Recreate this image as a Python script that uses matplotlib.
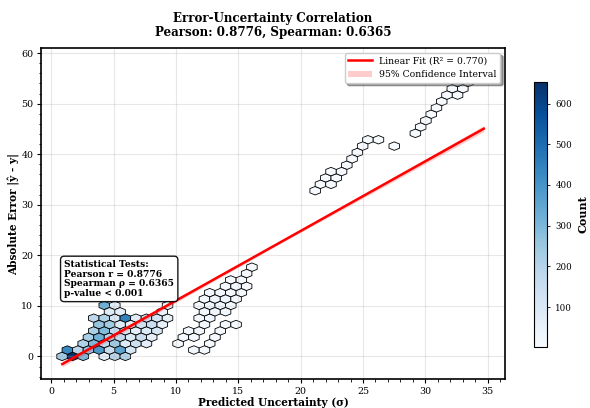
import numpy as np
import matplotlib
matplotlib.use("Agg")
import matplotlib.pyplot as plt
from matplotlib.lines import Line2D
from matplotlib.patches import Patch

plt.rcParams['font.family'] = ['DejaVu Serif']

# ---------------- data ----------------
# hexbin cells: centre x (predicted uncertainty), centre y (absolute error), count
hex_x = [
    # lower-left dense cluster
    0.86, 1.71, 2.55, 4.24, 5.09, 5.94,
    1.28, 2.13, 2.97, 3.82, 4.67, 5.51, 6.36,
    2.55, 3.40, 4.24, 5.09, 5.94, 6.78, 7.63,
    2.97, 3.82, 4.67, 5.51, 6.36, 7.20, 8.05,
    3.40, 4.24, 5.09, 5.94, 6.78, 7.63, 8.47,
    3.82, 4.67, 5.51, 6.36, 7.20, 8.05, 8.89,
    3.40, 4.24, 5.09, 5.94, 6.78, 7.63, 8.47, 9.32,
    4.67, 5.51, 8.89,
    4.24, 5.09, 9.32,
    # middle cluster
    11.44, 12.28,
    10.17, 12.70,
    10.59, 11.44, 13.13,
    11.01, 11.86, 13.55,
    12.28, 13.97, 14.82,
    11.86, 12.70,
    12.28, 13.13, 13.97,
    11.86, 12.70, 13.55, 14.40,
    12.28, 13.13, 13.97, 14.82,
    12.70, 13.55, 14.40, 15.24,
    13.97, 14.82, 15.67,
    14.40, 15.24,
    15.67,
    16.09,
    # upper cluster
    21.16,
    21.59, 22.43,
    22.01, 22.86,
    22.43, 23.28,
    23.70,
    24.12,
    24.55,
    24.97, 27.51,
    25.39, 26.24,
    # top cluster
    29.20, 29.62, 30.05, 30.47, 30.89, 31.32,
    31.74, 32.59,
    32.16, 33.01,
    32.59, 33.43,
    33.85, 34.28, 34.70,
]
hex_y = [
    0.00, 0.00, 0.00, 0.00, 0.00, 0.00,
    1.26, 1.26, 1.26, 1.26, 1.26, 1.26, 1.26,
    2.52, 2.52, 2.52, 2.52, 2.52, 2.52, 2.52,
    3.78, 3.78, 3.78, 3.78, 3.78, 3.78, 3.78,
    5.04, 5.04, 5.04, 5.04, 5.04, 5.04, 5.04,
    6.31, 6.31, 6.31, 6.31, 6.31, 6.31, 6.31,
    7.57, 7.57, 7.57, 7.57, 7.57, 7.57, 7.57, 7.57,
    8.83, 8.83, 8.83,
    10.09, 10.09, 10.09,
    1.26, 1.26,
    2.52, 2.52,
    3.78, 3.78, 3.78,
    5.04, 5.04, 5.04,
    6.31, 6.31, 6.31,
    7.57, 7.57,
    8.83, 8.83, 8.83,
    10.09, 10.09, 10.09, 10.09,
    11.35, 11.35, 11.35, 11.35,
    12.61, 12.61, 12.61, 12.61,
    13.87, 13.87, 13.87,
    15.13, 15.13,
    16.39,
    17.65,
    32.79,
    34.05, 34.05,
    35.31, 35.31,
    36.57, 36.57,
    37.83,
    39.09,
    40.35,
    41.61, 41.61,
    42.87, 42.87,
    44.14, 45.40, 46.66, 47.92, 49.18, 50.44,
    51.70, 51.70,
    52.96, 52.96,
    54.22, 54.22,
    55.48, 56.74, 57.90,
]
hex_count = [
    240, 653, 300, 70, 190, 210,
    430, 190, 260, 390, 160, 360, 110,
    210, 300, 180, 250, 90, 140, 70,
    230, 320, 210, 170, 90, 150, 70,
    220, 290, 170, 120, 70, 90, 110,
    260, 240, 90, 70, 130, 150, 60,
    180, 210, 100, 450, 80, 150, 120, 60,
    90, 70, 50,
    330, 70, 40,
    15, 12,
    10, 14,
    18, 12, 12,
    15, 20, 10,
    22, 12, 8,
    18, 25,
    20, 28, 22,
    15, 25, 30, 20,
    18, 28, 25, 15,
    15, 22, 20, 12,
    15, 18, 10,
    10, 12,
    10,
    6,
    5,
    6, 5,
    5, 6,
    6, 5,
    6,
    5,
    6,
    5, 2,
    5, 4,
    5, 5, 5, 6, 5, 6,
    5, 6,
    6, 5,
    4, 5,
    4, 3, 2,
]

# data range of the underlying points (sets the hexagon grid)
data_extent = (0.86, 34.70, 0.0, 58.0)

# linear fit
fit_x = [0.88, 34.69]
fit_y = [-1.52, 45.06]
ci_x = [0.88, 17.78, 34.69]
ci_mid = [-1.52, 21.77, 45.06]
ci_half = [0.55, 0.25, 0.6]

title_text = "Error-Uncertainty Correlation\nPearson: 0.8776, Spearman: 0.6365"
stats_text = ("Statistical Tests:\nPearson r = 0.8776\n"
              "Spearman \u03c1 = 0.6365\np-value < 0.001")

# ---------------- figure ----------------
fig = plt.figure(figsize=(5.9, 4.08), dpi=100)
ax = fig.add_axes([0.0695, 0.0711, 0.7864, 0.811])
cax = fig.add_axes([0.905, 0.1495, 0.022, 0.6495])

hb = ax.hexbin(hex_x, hex_y, C=hex_count, reduce_C_function=np.sum,
               gridsize=40, extent=data_extent, cmap='Blues',
               edgecolors='black', linewidths=0.6)

ax.plot(fit_x, fit_y, color='red', lw=1.8, zorder=3)
lo = [m - h for m, h in zip(ci_mid, ci_half)]
hi = [m + h for m, h in zip(ci_mid, ci_half)]
ax.fill_between(ci_x, lo, hi, color='red', alpha=0.2, lw=0, zorder=2.5)

ax.set_xlim(-0.83, 36.39)
ax.set_ylim(-4.47, 61.0)
ax.grid(True, alpha=0.3)
ax.minorticks_on()
ax.tick_params(axis='both', which='major', labelsize=6.8, length=3, width=0.8, pad=2.5)
ax.tick_params(axis='both', which='minor', length=1.8, width=0.6)
for s in ax.spines.values():
    s.set_linewidth(1.2)

ax.set_xlabel('Predicted Uncertainty (\u03c3)', fontsize=7.6, fontweight='bold', labelpad=1)
ax.set_ylabel('Absolute Error |\u0177 - y|', fontsize=7.6, fontweight='bold', labelpad=0.5)
ax.set_title(title_text, fontsize=8.6, fontweight='bold', pad=9, linespacing=1.1)

handles = [Line2D([0], [0], color='red', lw=1.8),
           Patch(facecolor='red', alpha=0.2)]
ax.legend(handles, ['Linear Fit (R\u00b2 = 0.770)', '95% Confidence Interval'],
          loc='upper right', fontsize=6.7, shadow=True, fancybox=True,
          borderpad=0.4, handlelength=2.5)

ax.text(0.05, 0.36, stats_text, transform=ax.transAxes, va='top', ha='left',
        fontsize=6.6, fontweight='bold', linespacing=1.1,
        bbox=dict(boxstyle='round,pad=0.4', facecolor='white',
                  edgecolor='black', alpha=0.9), zorder=5)

cb = fig.colorbar(hb, cax=cax)
cb.set_label('Count', fontsize=8, fontweight='bold')
cb.ax.tick_params(labelsize=6.2, length=2.5, width=0.6)

fig.savefig('out.png', dpi=100)
